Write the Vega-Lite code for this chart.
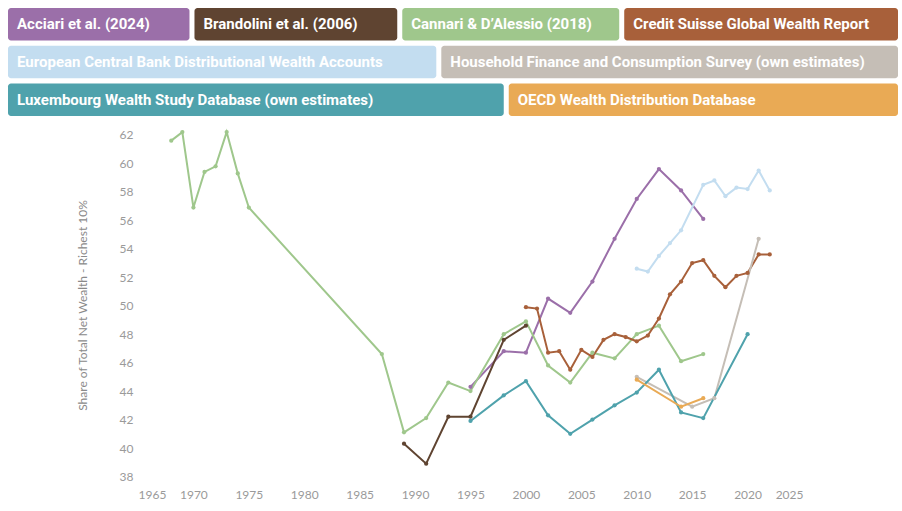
{
  "$schema": "https://vega.github.io/schema/vega-lite/v6.json",
  "width": 665,
  "height": 360,
  "autosize": "none",
  "padding": {"left": 138, "top": 125, "right": 99, "bottom": 26},
  "background": "white",
  "config": {"view": {"stroke": null}, "font": "Lato"},
  "datasets": {
    "series": [
      {"source": "Acciari et al. (2024)", "year": 1995, "share": 44.3},
      {"source": "Acciari et al. (2024)", "year": 1998, "share": 46.8},
      {"source": "Acciari et al. (2024)", "year": 2000, "share": 46.7},
      {"source": "Acciari et al. (2024)", "year": 2002, "share": 50.5},
      {"source": "Acciari et al. (2024)", "year": 2004, "share": 49.5},
      {"source": "Acciari et al. (2024)", "year": 2006, "share": 51.7},
      {"source": "Acciari et al. (2024)", "year": 2008, "share": 54.7},
      {"source": "Acciari et al. (2024)", "year": 2010, "share": 57.5},
      {"source": "Acciari et al. (2024)", "year": 2012, "share": 59.6},
      {"source": "Acciari et al. (2024)", "year": 2014, "share": 58.1},
      {"source": "Acciari et al. (2024)", "year": 2016, "share": 56.1},
      {"source": "Brandolini et al. (2006)", "year": 1989, "share": 40.3},
      {"source": "Brandolini et al. (2006)", "year": 1991, "share": 38.9},
      {"source": "Brandolini et al. (2006)", "year": 1993, "share": 42.2},
      {"source": "Brandolini et al. (2006)", "year": 1995, "share": 42.2},
      {"source": "Brandolini et al. (2006)", "year": 1998, "share": 47.6},
      {"source": "Brandolini et al. (2006)", "year": 2000, "share": 48.6},
      {"source": "Cannari & D’Alessio (2018)", "year": 1968, "share": 61.6},
      {"source": "Cannari & D’Alessio (2018)", "year": 1969, "share": 62.2},
      {"source": "Cannari & D’Alessio (2018)", "year": 1970, "share": 56.9},
      {"source": "Cannari & D’Alessio (2018)", "year": 1971, "share": 59.4},
      {"source": "Cannari & D’Alessio (2018)", "year": 1972, "share": 59.8},
      {"source": "Cannari & D’Alessio (2018)", "year": 1973, "share": 62.2},
      {"source": "Cannari & D’Alessio (2018)", "year": 1974, "share": 59.3},
      {"source": "Cannari & D’Alessio (2018)", "year": 1975, "share": 56.9},
      {"source": "Cannari & D’Alessio (2018)", "year": 1987, "share": 46.6},
      {"source": "Cannari & D’Alessio (2018)", "year": 1989, "share": 41.1},
      {"source": "Cannari & D’Alessio (2018)", "year": 1991, "share": 42.1},
      {"source": "Cannari & D’Alessio (2018)", "year": 1993, "share": 44.6},
      {"source": "Cannari & D’Alessio (2018)", "year": 1995, "share": 44.0},
      {"source": "Cannari & D’Alessio (2018)", "year": 1998, "share": 48.0},
      {"source": "Cannari & D’Alessio (2018)", "year": 2000, "share": 48.9},
      {"source": "Cannari & D’Alessio (2018)", "year": 2002, "share": 45.8},
      {"source": "Cannari & D’Alessio (2018)", "year": 2004, "share": 44.6},
      {"source": "Cannari & D’Alessio (2018)", "year": 2006, "share": 46.7},
      {"source": "Cannari & D’Alessio (2018)", "year": 2008, "share": 46.3},
      {"source": "Cannari & D’Alessio (2018)", "year": 2010, "share": 48.0},
      {"source": "Cannari & D’Alessio (2018)", "year": 2012, "share": 48.6},
      {"source": "Cannari & D’Alessio (2018)", "year": 2014, "share": 46.1},
      {"source": "Cannari & D’Alessio (2018)", "year": 2016, "share": 46.6},
      {"source": "Credit Suisse Global Wealth Report", "year": 2000, "share": 49.9},
      {"source": "Credit Suisse Global Wealth Report", "year": 2001, "share": 49.8},
      {"source": "Credit Suisse Global Wealth Report", "year": 2002, "share": 46.7},
      {"source": "Credit Suisse Global Wealth Report", "year": 2003, "share": 46.8},
      {"source": "Credit Suisse Global Wealth Report", "year": 2004, "share": 45.5},
      {"source": "Credit Suisse Global Wealth Report", "year": 2005, "share": 46.9},
      {"source": "Credit Suisse Global Wealth Report", "year": 2006, "share": 46.4},
      {"source": "Credit Suisse Global Wealth Report", "year": 2007, "share": 47.6},
      {"source": "Credit Suisse Global Wealth Report", "year": 2008, "share": 48.0},
      {"source": "Credit Suisse Global Wealth Report", "year": 2009, "share": 47.8},
      {"source": "Credit Suisse Global Wealth Report", "year": 2010, "share": 47.5},
      {"source": "Credit Suisse Global Wealth Report", "year": 2011, "share": 47.9},
      {"source": "Credit Suisse Global Wealth Report", "year": 2012, "share": 49.1},
      {"source": "Credit Suisse Global Wealth Report", "year": 2013, "share": 50.8},
      {"source": "Credit Suisse Global Wealth Report", "year": 2014, "share": 51.7},
      {"source": "Credit Suisse Global Wealth Report", "year": 2015, "share": 53.0},
      {"source": "Credit Suisse Global Wealth Report", "year": 2016, "share": 53.2},
      {"source": "Credit Suisse Global Wealth Report", "year": 2017, "share": 52.1},
      {"source": "Credit Suisse Global Wealth Report", "year": 2018, "share": 51.3},
      {"source": "Credit Suisse Global Wealth Report", "year": 2019, "share": 52.1},
      {"source": "Credit Suisse Global Wealth Report", "year": 2020, "share": 52.3},
      {"source": "Credit Suisse Global Wealth Report", "year": 2021, "share": 53.6},
      {"source": "Credit Suisse Global Wealth Report", "year": 2022, "share": 53.6},
      {"source": "European Central Bank Distributional Wealth Accounts", "year": 2010, "share": 52.6},
      {"source": "European Central Bank Distributional Wealth Accounts", "year": 2011, "share": 52.4},
      {"source": "European Central Bank Distributional Wealth Accounts", "year": 2012, "share": 53.5},
      {"source": "European Central Bank Distributional Wealth Accounts", "year": 2013, "share": 54.4},
      {"source": "European Central Bank Distributional Wealth Accounts", "year": 2014, "share": 55.3},
      {"source": "European Central Bank Distributional Wealth Accounts", "year": 2016, "share": 58.5},
      {"source": "European Central Bank Distributional Wealth Accounts", "year": 2017, "share": 58.8},
      {"source": "European Central Bank Distributional Wealth Accounts", "year": 2018, "share": 57.7},
      {"source": "European Central Bank Distributional Wealth Accounts", "year": 2019, "share": 58.3},
      {"source": "European Central Bank Distributional Wealth Accounts", "year": 2020, "share": 58.2},
      {"source": "European Central Bank Distributional Wealth Accounts", "year": 2021, "share": 59.5},
      {"source": "European Central Bank Distributional Wealth Accounts", "year": 2022, "share": 58.1},
      {"source": "Household Finance and Consumption Survey (own estimates)", "year": 2010, "share": 45.0},
      {"source": "Household Finance and Consumption Survey (own estimates)", "year": 2015, "share": 42.9},
      {"source": "Household Finance and Consumption Survey (own estimates)", "year": 2017, "share": 43.5},
      {"source": "Household Finance and Consumption Survey (own estimates)", "year": 2021, "share": 54.7},
      {"source": "Luxembourg Wealth Study Database (own estimates)", "year": 1995, "share": 41.9},
      {"source": "Luxembourg Wealth Study Database (own estimates)", "year": 1998, "share": 43.7},
      {"source": "Luxembourg Wealth Study Database (own estimates)", "year": 2000, "share": 44.7},
      {"source": "Luxembourg Wealth Study Database (own estimates)", "year": 2002, "share": 42.3},
      {"source": "Luxembourg Wealth Study Database (own estimates)", "year": 2004, "share": 41.0},
      {"source": "Luxembourg Wealth Study Database (own estimates)", "year": 2006, "share": 42.0},
      {"source": "Luxembourg Wealth Study Database (own estimates)", "year": 2008, "share": 43.0},
      {"source": "Luxembourg Wealth Study Database (own estimates)", "year": 2010, "share": 43.9},
      {"source": "Luxembourg Wealth Study Database (own estimates)", "year": 2012, "share": 45.5},
      {"source": "Luxembourg Wealth Study Database (own estimates)", "year": 2014, "share": 42.5},
      {"source": "Luxembourg Wealth Study Database (own estimates)", "year": 2016, "share": 42.1},
      {"source": "Luxembourg Wealth Study Database (own estimates)", "year": 2020, "share": 48.0},
      {"source": "OECD Wealth Distribution Database", "year": 2010, "share": 44.8},
      {"source": "OECD Wealth Distribution Database", "year": 2014, "share": 42.9},
      {"source": "OECD Wealth Distribution Database", "year": 2016, "share": 43.5}
    ],
    "legend": [
      {"source": "Acciari et al. (2024)", "line": 1},
      {"source": "Brandolini et al. (2006)", "line": 1},
      {"source": "Cannari & D’Alessio (2018)", "line": 1},
      {"source": "Credit Suisse Global Wealth Report", "line": 1},
      {"source": "European Central Bank Distributional Wealth Accounts", "line": 2},
      {"source": "Household Finance and Consumption Survey (own estimates)", "line": 2},
      {"source": "Luxembourg Wealth Study Database (own estimates)", "line": 3},
      {"source": "OECD Wealth Distribution Database", "line": 3}
    ]
  },
  "layer": [
    {
      "data": {"name": "series"},
      "mark": {
        "type": "line",
        "strokeWidth": 2,
        "point": {"filled": true, "size": 18}
      },
      "encoding": {
        "x": {
          "field": "year",
          "type": "quantitative",
          "scale": {"domain": [1965, 2025], "nice": false, "zero": false},
          "axis": {
            "title": null,
            "values": [1965, 1970, 1975, 1980, 1985, 1990, 1995, 2000, 2005, 2010, 2015, 2020, 2025],
            "format": "d",
            "grid": false,
            "domain": false,
            "ticks": false,
            "labelFlush": true,
            "labelPadding": 4,
            "labelColor": "#9a9a9a",
            "labelFont": "Lato",
            "labelFontSize": 12
          }
        },
        "y": {
          "field": "share",
          "type": "quantitative",
          "scale": {"domain": [37.4, 62.7], "nice": false, "zero": false},
          "axis": {
            "title": "Share of Total Net Wealth - Richest 10%",
            "values": [38, 40, 42, 44, 46, 48, 50, 52, 54, 56, 58, 60, 62],
            "grid": false,
            "domain": false,
            "ticks": false,
            "labelPadding": 5,
            "labelColor": "#9a9a9a",
            "labelFont": "Lato",
            "labelFontSize": 12,
            "titleColor": "#8a8a8a",
            "titleFont": "Lato",
            "titleFontSize": 12,
            "titleFontWeight": "normal",
            "titlePadding": 30
          }
        },
        "color": {
          "field": "source",
          "type": "nominal",
          "scale": {
            "domain": [
              "Acciari et al. (2024)",
              "Brandolini et al. (2006)",
              "Cannari & D’Alessio (2018)",
              "Credit Suisse Global Wealth Report",
              "European Central Bank Distributional Wealth Accounts",
              "Household Finance and Consumption Survey (own estimates)",
              "Luxembourg Wealth Study Database (own estimates)",
              "OECD Wealth Distribution Database"
            ],
            "range": ["#9b6fa9", "#5f4431", "#9fc78c", "#a8603a", "#c3ddf0", "#c5beb6", "#4fa2ac", "#e9aa55"]
          },
          "legend": null
        }
      }
    },
    {
      "data": {"name": "legend"},
      "transform": [
        {"calculate": "length(datum.source) * 7.1 + 18", "as": "w"},
        {
          "window": [
            {"op": "sum", "field": "w", "as": "cum"},
            {"op": "row_number", "as": "idx"}
          ],
          "groupby": ["line"],
          "sort": [{"field": "source", "order": "ascending"}],
          "frame": [null, 0]
        },
        {
          "joinaggregate": [
            {"op": "sum", "field": "w", "as": "tot"},
            {"op": "count", "as": "n"}
          ],
          "groupby": ["line"]
        },
        {"calculate": "(890 - datum.tot - 5 * (datum.n - 1)) / datum.n", "as": "extra"},
        {"calculate": "datum.cum - datum.w + (datum.idx - 1) * (datum.extra + 5)", "as": "x0"},
        {"calculate": "datum.x0 + datum.w + datum.extra", "as": "x1"},
        {"calculate": "datum.x0 + 9", "as": "tx"}
      ],
      "encoding": {
        "y": {
          "field": "line",
          "type": "ordinal",
          "scale": {"range": [-117, -9], "paddingInner": 0.14, "paddingOuter": 0},
          "axis": null
        }
      },
      "layer": [
        {
          "mark": {"type": "rect", "cornerRadius": 3},
          "encoding": {
            "x": {
              "field": "x0",
              "type": "quantitative",
              "scale": {"domain": [0, 890], "range": [-130, 760], "nice": false, "zero": false},
              "axis": null
            },
            "x2": {"field": "x1"},
            "color": {"field": "source", "type": "nominal", "legend": null}
          }
        },
        {
          "mark": {
            "type": "text",
            "align": "left",
            "baseline": "middle",
            "color": "white",
            "font": "Roboto",
            "fontWeight": "bold",
            "fontSize": 15
          },
          "encoding": {
            "x": {"field": "tx", "type": "quantitative", "axis": null},
            "text": {"field": "source"}
          }
        }
      ]
    }
  ],
  "resolve": {
    "scale": {"x": "independent", "y": "independent"},
    "axis": {"x": "independent", "y": "independent"}
  }
}
